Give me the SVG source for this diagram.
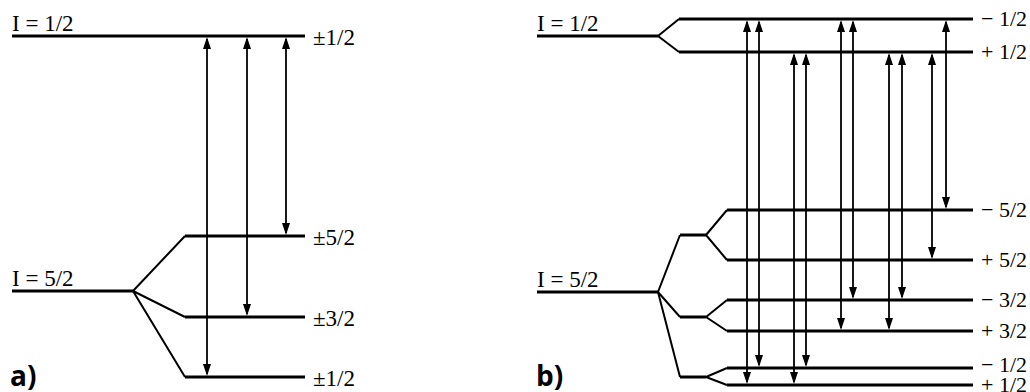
<svg xmlns="http://www.w3.org/2000/svg" width="1030" height="392" viewBox="0 0 1030 392">
<defs>
<marker id="ah" viewBox="0 0 12 8" refX="10" refY="4" markerWidth="12" markerHeight="8" markerUnits="userSpaceOnUse" orient="auto-start-reverse">
<path d="M0,0 L12,4 L0,8 z" fill="#000"/>
</marker>
<style>
.lv{stroke:#000;stroke-width:3;fill:none}
.br{stroke:#000;stroke-width:2;fill:none;stroke-linejoin:round}
.ar{stroke:#000;stroke-width:1.8;fill:none;marker-start:url(#ah);marker-end:url(#ah)}
.t{font-family:"Liberation Serif","Times New Roman",serif;font-size:23px;fill:#000}
.tr{font-family:"Liberation Serif","Times New Roman",serif;font-size:22px;fill:#000}
.p{font-family:"Open Sans","DejaVu Sans",sans-serif;font-size:28px;font-weight:bold;fill:#000}
</style>
</defs>
<rect width="1030" height="392" fill="#fff"/>

<!-- Panel a -->
<g id="a-I12">
<line class="lv" x1="12" y1="36" x2="305" y2="36"/>
<text class="t" x="12" y="31">I = 1/2</text>
<text class="t" x="313" y="45">±1/2</text>
</g>
<g id="a-I52">
<line class="lv" x1="12" y1="291" x2="133" y2="291"/>
<text class="t" x="12" y="286">I = 5/2</text>
</g>
<g id="a-m52">
<line class="lv" x1="185" y1="236" x2="305" y2="236"/>
<text class="t" x="313" y="245">±5/2</text>
</g>
<g id="a-m32">
<line class="lv" x1="185" y1="317" x2="305" y2="317"/>
<text class="t" x="313" y="326">±3/2</text>
</g>
<g id="a-m12">
<line class="lv" x1="185" y1="377" x2="305" y2="377"/>
<text class="t" x="313" y="386">±1/2</text>
</g>
<text class="p" x="10" y="386">a)</text>

<!-- Panel b -->
<g id="b-I12">
<line class="lv" x1="537" y1="36" x2="658" y2="36"/>
<text class="t" x="537" y="31">I = 1/2</text>
</g>
<g id="b-u-m12">
<line class="lv" x1="679" y1="19" x2="973" y2="19"/>
<text class="tr" x="981" y="26">− 1/2</text>
</g>
<g id="b-u-p12">
<line class="lv" x1="679" y1="52" x2="973" y2="52"/>
<text class="tr" x="981" y="59">+ 1/2</text>
</g>
<g id="b-I52">
<line class="lv" x1="537" y1="292" x2="658" y2="292"/>
<text class="t" x="537" y="287">I = 5/2</text>
</g>
<g id="b-m52">
<line class="lv" x1="727" y1="210" x2="973" y2="210"/>
<text class="tr" x="981" y="217">− 5/2</text>
</g>
<g id="b-p52">
<line class="lv" x1="727" y1="260" x2="973" y2="260"/>
<text class="tr" x="981" y="267">+ 5/2</text>
</g>
<g id="b-m32">
<line class="lv" x1="727" y1="300" x2="973" y2="300"/>
<text class="tr" x="981" y="307">− 3/2</text>
</g>
<g id="b-p32">
<line class="lv" x1="727" y1="331" x2="973" y2="331"/>
<text class="tr" x="981" y="338">+ 3/2</text>
</g>
<g id="b-m12">
<line class="lv" x1="727" y1="368" x2="973" y2="368"/>
<text class="tr" x="981" y="372">− 1/2</text>
</g>
<g id="b-p12">
<line class="lv" x1="727" y1="385" x2="973" y2="385"/>
<text class="tr" x="981" y="392">+ 1/2</text>
</g>
<g id="b-int52">
<line class="lv" x1="680" y1="235" x2="706" y2="235"/>
</g>
<g id="b-int32">
<line class="lv" x1="680" y1="317" x2="706" y2="317"/>
</g>
<g id="b-int12">
<line class="lv" x1="680" y1="377" x2="706" y2="377"/>
</g>
<text class="p" x="536" y="386">b)</text>

<!-- Connectors -->
<g id="connectors">
<path class="br" d="M133,291 L185,236 M133,291 L185,317 M133,291 L185,377"/>
<path class="br" d="M658,36 L679,19 M658,36 L679,52"/>
<path class="br" d="M658,292 L680,235 M658,292 L680,317 M658,292 L680,377"/>
<path class="br" d="M706,235 L727,210 M706,235 L727,260 M706,317 L727,300 M706,317 L727,331 M706,377 L727,368 M706,377 L727,385"/>

<line class="ar" x1="207" y1="39" x2="207" y2="374"/>
<line class="ar" x1="247" y1="39" x2="247" y2="314"/>
<line class="ar" x1="286" y1="39" x2="286" y2="233"/>

<line class="ar" x1="747" y1="22" x2="747" y2="382"/>
<line class="ar" x1="759" y1="22" x2="759" y2="365"/>
<line class="ar" x1="794" y1="55" x2="794" y2="382"/>
<line class="ar" x1="806" y1="55" x2="806" y2="365"/>
<line class="ar" x1="841" y1="22" x2="841" y2="328"/>
<line class="ar" x1="853" y1="22" x2="853" y2="297"/>
<line class="ar" x1="889" y1="55" x2="889" y2="328"/>
<line class="ar" x1="902" y1="55" x2="902" y2="297"/>
<line class="ar" x1="932" y1="55" x2="932" y2="257"/>
<line class="ar" x1="946" y1="22" x2="946" y2="207"/>
</g>
</svg>
